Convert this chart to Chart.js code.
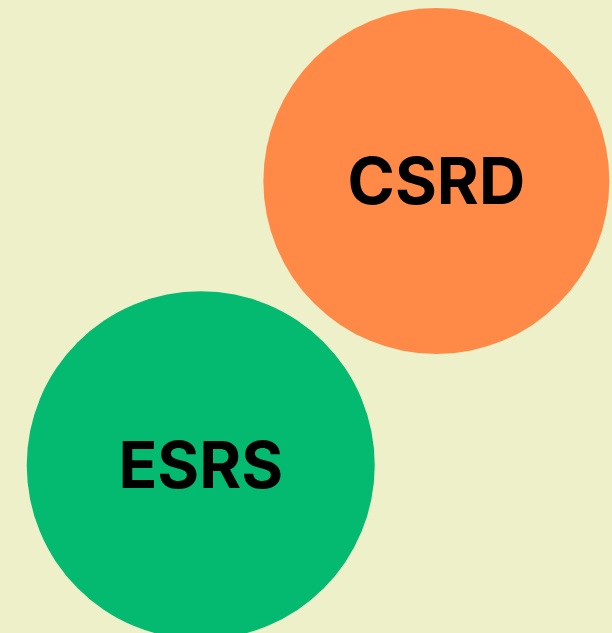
<!DOCTYPE html>
<html>
<head>
<meta charset="utf-8">
<script src="https://cdn.jsdelivr.net/npm/chart.js@4"></script>
<style>
  html, body { margin: 0; padding: 0; background: #EEF0C9; }
  #wrap { width: 612px; height: 633px; position: relative; }
</style>
</head>
<body>
<div id="wrap"><canvas id="c"></canvas></div>
<script>
const labels = ['CSRD', 'ESRS'];
const xValues = [71.3, 32.8];      // % of width
const yValues = [28.6, 73.5];      // % of height, from top
const radii = [173, 174];
const colors = ['#FF8A47', '#04B970'];

const bgPlugin = {
  id: 'bg',
  beforeDraw(chart) {
    const ctx = chart.ctx;
    ctx.save();
    ctx.fillStyle = '#EEF0C9';
    ctx.fillRect(0, 0, chart.width, chart.height);
    ctx.restore();
  }
};

const labelPlugin = {
  id: 'bubbleLabels',
  afterDatasetsDraw(chart) {
    const ctx = chart.ctx;
    const meta = chart.getDatasetMeta(0);
    ctx.save();
    ctx.fillStyle = '#000000';
    ctx.font = '700 64px Inter';
    ctx.textAlign = 'center';
    ctx.textBaseline = 'alphabetic';
    meta.data.forEach((el, i) => {
      ctx.fillText(labels[i], el.x, el.y + 23);
    });
    ctx.restore();
  }
};

new Chart(document.getElementById('c'), {
  type: 'bubble',
  data: {
    labels: labels,
    datasets: [{
      data: labels.map((l, i) => ({ x: xValues[i], y: yValues[i], r: radii[i] })),
      backgroundColor: colors,
      borderWidth: 0,
      hoverBorderWidth: 0,
      clip: false
    }]
  },
  options: {
    responsive: true,
    maintainAspectRatio: false,
    animation: false,
    layout: { padding: 0, autoPadding: false },
    events: [],
    plugins: { legend: { display: false }, tooltip: { enabled: false } },
    scales: {
      x: { type: 'linear', min: 0, max: 100, display: false },
      y: { type: 'linear', min: 0, max: 100, reverse: true, display: false }
    }
  },
  plugins: [bgPlugin, labelPlugin]
});
</script>
</body>
</html>
